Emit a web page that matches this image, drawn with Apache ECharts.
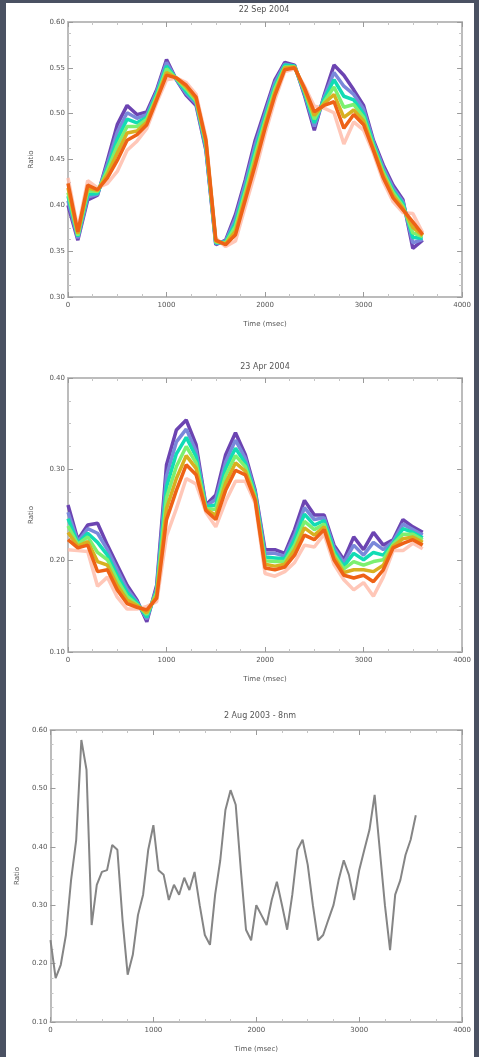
<!DOCTYPE html>
<html><head><meta charset="utf-8">
<script src="https://cdn.jsdelivr.net/npm/echarts@6/dist/echarts.min.js"></script>
<style>
html,body{margin:0;padding:0;background:#4a5162;width:479px;height:1057px;overflow:hidden}
#c{position:absolute;left:6px;top:3px;width:468px;height:1054px;background:#fff}
</style></head><body><div id="c"></div>
<script>
const titles = ['22 Sep 2004', '23 Apr 2004', '2 Aug 2003 - 8nm'];
const xTitle = 'Time (msec)';
const yTitle = 'Ratio';
const xTicks = [0, 1000, 2000, 3000, 4000];
const yTicks1 = [0.30, 0.35, 0.40, 0.45, 0.50, 0.55, 0.60];
const yTicks2 = [0.10, 0.20, 0.30, 0.40];
const yTicks3 = [0.1, 0.2, 0.3, 0.4, 0.5, 0.6];

const time12 = [0,100,200,300,400,500,600,700,800,900,1000,1100,1200,1300,1400,1500,1600,1700,1800,1900,2000,2100,2200,2300,2400,2500,2600,2700,2800,2900,3000,3100,3200,3300,3400,3500,3600];

const p1Purple = [.400,.362,.406,.411,.449,.488,.509,.499,.502,.526,.559,.537,.520,.509,.460,.357,.362,.390,.428,.471,.504,.537,.556,.553,.520,.482,.520,.553,.542,.526,.509,.471,.444,.422,.406,.353,.362];
const p1Blue   = [.405,.364,.409,.412,.445,.480,.501,.495,.499,.524,.556,.537,.522,.511,.462,.358,.361,.386,.424,.466,.500,.534,.554,.552,.522,.486,.518,.545,.530,.521,.505,.469,.441,.419,.404,.359,.363];
const p1Cyan   = [.410,.366,.412,.413,.441,.472,.494,.490,.496,.522,.552,.538,.524,.513,.464,.359,.360,.381,.419,.460,.496,.530,.553,.552,.523,.490,.516,.537,.519,.515,.500,.467,.438,.416,.402,.365,.364];
const p1Green  = [.414,.367,.416,.415,.438,.465,.486,.486,.494,.519,.549,.538,.527,.514,.467,.360,.359,.377,.415,.455,.492,.527,.551,.551,.525,.494,.513,.529,.507,.510,.496,.464,.436,.414,.399,.370,.366];
const p1Gold   = [.419,.369,.419,.416,.434,.457,.479,.481,.491,.517,.545,.539,.529,.516,.469,.361,.358,.372,.410,.449,.488,.523,.550,.551,.526,.498,.511,.521,.496,.504,.492,.462,.433,.411,.397,.376,.367];
const p1Orange = [.424,.371,.422,.417,.430,.449,.471,.477,.488,.515,.542,.539,.531,.518,.471,.362,.357,.368,.406,.444,.484,.520,.548,.550,.528,.502,.509,.513,.484,.499,.488,.460,.430,.408,.395,.382,.368];
const p1Salmon = [.430,.374,.427,.419,.424,.437,.460,.470,.484,.512,.537,.539,.534,.521,.474,.364,.355,.361,.399,.436,.478,.515,.546,.549,.530,.508,.506,.501,.467,.491,.482,.457,.426,.404,.392,.391,.370];

const p2Purple = [.261,.223,.239,.241,.217,.195,.173,.157,.133,.173,.305,.343,.354,.327,.261,.272,.316,.340,.316,.277,.212,.212,.208,.234,.266,.250,.250,.217,.201,.226,.212,.231,.217,.223,.245,.237,.231];
const p2Blue   = [.253,.221,.235,.230,.212,.190,.169,.155,.136,.170,.293,.330,.344,.320,.260,.267,.308,.332,.312,.275,.208,.208,.205,.228,.258,.245,.247,.214,.198,.217,.206,.220,.212,.221,.240,.234,.228];
const p2Cyan   = [.246,.219,.230,.220,.206,.184,.165,.154,.138,.167,.281,.317,.335,.314,.259,.261,.301,.323,.307,.273,.204,.203,.202,.223,.251,.239,.244,.211,.194,.208,.201,.209,.206,.219,.235,.231,.225];
const p2Green  = [.238,.218,.226,.209,.201,.179,.161,.152,.141,.165,.269,.303,.325,.307,.257,.256,.293,.315,.303,.270,.200,.199,.199,.217,.243,.234,.240,.207,.191,.199,.195,.199,.201,.218,.229,.229,.223];
const p2Gold   = [.231,.216,.221,.199,.195,.173,.157,.151,.143,.162,.257,.290,.315,.301,.256,.250,.285,.307,.298,.268,.196,.194,.196,.212,.236,.228,.237,.204,.187,.190,.190,.188,.195,.216,.224,.226,.220];
const p2Orange = [.223,.214,.217,.188,.190,.168,.153,.149,.146,.159,.245,.277,.305,.294,.255,.245,.277,.299,.294,.266,.192,.190,.193,.206,.228,.223,.234,.201,.184,.181,.184,.177,.190,.214,.219,.223,.217];
const p2Salmon = [.212,.211,.210,.172,.182,.160,.147,.147,.150,.155,.227,.257,.290,.284,.253,.237,.265,.287,.287,.263,.186,.183,.188,.198,.217,.215,.229,.196,.179,.168,.176,.161,.182,.211,.211,.219,.213];

const time3 = [0,50,100,150,200,250,300,350,400,450,500,550,600,650,700,750,800,850,900,950,1000,1050,1100,1150,1200,1250,1300,1350,1400,1450,1500,1550,1600,1650,1700,1750,1800,1850,1900,1950,2000,2050,2100,2150,2200,2250,2300,2350,2400,2450,2500,2550,2600,2650,2700,2750,2800,2850,2900,2950,3000,3050,3100,3150,3200,3250,3300,3350,3400,3450,3500,3550];
const p3Values = [.240,.175,.198,.249,.343,.412,.583,.532,.266,.335,.357,.360,.403,.395,.275,.181,.215,.283,.318,.395,.437,.360,.352,.309,.335,.318,.347,.326,.357,.300,.249,.232,.318,.377,.463,.497,.472,.360,.258,.240,.300,.283,.266,.309,.340,.300,.258,.318,.395,.412,.369,.300,.240,.249,.275,.300,.343,.377,.352,.309,.360,.395,.429,.489,.395,.300,.223,.318,.343,.386,.412,.454];

const colors = {salmon:'#ffb9a6', purple:'#6c44b2', blue:'#7a88da', cyan:'#12dcb4', green:'#7cf070', gold:'#d8b020', orange:'#ee6216'};

const grids = [
  {left: 62, top: 19, width: 397, height: 275},
  {left: 62, top: 375, width: 395, height: 274},
  {left: 42, top: 727, width: 422, height: 292}
];
const yTicksAll = [yTicks1, yTicks2, yTicks3];
const yDec = [2, 2, 2];
const yNameGap = [33, 33, 29];

const txt = '#555';
const xAxes = [], yAxes = [];
grids.forEach((g, i) => {
  const base = {
    gridIndex: i, type: 'value',
    axisLine: {show: true, onZero: false, lineStyle: {color: '#bcbcbc', width: 2}},
    axisTick: {show: true, inside: true, length: 5, lineStyle: {color: '#9a9a9a'}},
    minorTick: {show: true, splitNumber: 4, length: 3, lineStyle: {color: '#c4c4c4'}},
    splitLine: {show: false}
  };
  xAxes.push(Object.assign({}, base, {
    min: xTicks[0], max: xTicks[xTicks.length - 1], interval: xTicks[1] - xTicks[0],
    position: 'bottom',
    axisLabel: {fontSize: 7, color: txt, margin: 5, fontFamily: 'DejaVu Sans', formatter: v => String(v)},
    name: xTitle, nameLocation: 'middle', nameGap: 24,
    nameTextStyle: {fontSize: 7, color: txt, fontFamily: 'DejaVu Sans'}
  }));
  xAxes.push(Object.assign({}, base, {
    min: xTicks[0], max: xTicks[xTicks.length - 1], interval: xTicks[1] - xTicks[0],
    position: 'top', axisLabel: {show: false}
  }));
  const yt = yTicksAll[i];
  const yint = +(yt[1] - yt[0]).toFixed(4);
  yAxes.push(Object.assign({}, base, {
    min: yt[0], max: yt[yt.length - 1], interval: yint,
    position: 'left',
    axisLabel: {fontSize: 7, color: txt, margin: 3, fontFamily: 'DejaVu Sans', formatter: v => v.toFixed(yDec[i])},
    name: yTitle, nameLocation: 'middle', nameGap: yNameGap[i], nameRotate: 90,
    nameTextStyle: {fontSize: 7, color: txt, fontFamily: 'DejaVu Sans'}
  }));
  yAxes.push(Object.assign({}, base, {
    min: yt[0], max: yt[yt.length - 1], interval: yint,
    position: 'right', axisLabel: {show: false}
  }));
});

function pairs(t, v) { return t.map((x, k) => [x, v[k]]); }
function line(gi, t, v, color, w, opacity) {
  return {
    type: 'line', xAxisIndex: 2 * gi, yAxisIndex: 2 * gi, data: pairs(t, v),
    showSymbol: false, symbol: 'none', lineStyle: {color: color, width: w, opacity: opacity == null ? 1 : opacity},
    itemStyle: {color: color}, animation: false, silent: true
  };
}

const series = [
  line(0, time12, p1Salmon, colors.salmon, 3.5, 0.8),
  line(0, time12, p1Purple, colors.purple, 3.5),
  line(0, time12, p1Blue, colors.blue, 3.5),
  line(0, time12, p1Cyan, colors.cyan, 3.5),
  line(0, time12, p1Green, colors.green, 3.5),
  line(0, time12, p1Gold, colors.gold, 3.5),
  line(0, time12, p1Orange, colors.orange, 3.5),
  line(1, time12, p2Salmon, colors.salmon, 3.5, 0.8),
  line(1, time12, p2Purple, colors.purple, 3.5),
  line(1, time12, p2Blue, colors.blue, 3.5),
  line(1, time12, p2Cyan, colors.cyan, 3.5),
  line(1, time12, p2Green, colors.green, 3.5),
  line(1, time12, p2Gold, colors.gold, 3.5),
  line(1, time12, p2Orange, colors.orange, 3.5),
  line(2, time3, p3Values, '#858585', 2)
];

const titlePos = [[258, 7], [259, 364], [254, 713]];
const graphic = titles.map((t, i) => ({
  type: 'text', x: titlePos[i][0], y: titlePos[i][1],
  style: {text: t, fontSize: 8, fill: txt, align: 'center', verticalAlign: 'middle', fontFamily: 'DejaVu Sans'}
}));

const chart = echarts.init(document.getElementById('c'), null, {renderer: 'canvas'});
chart.setOption({
  animation: false,
  backgroundColor: '#ffffff',
  grid: grids,
  xAxis: xAxes,
  yAxis: yAxes,
  series: series,
  graphic: graphic
});
</script></body></html>
